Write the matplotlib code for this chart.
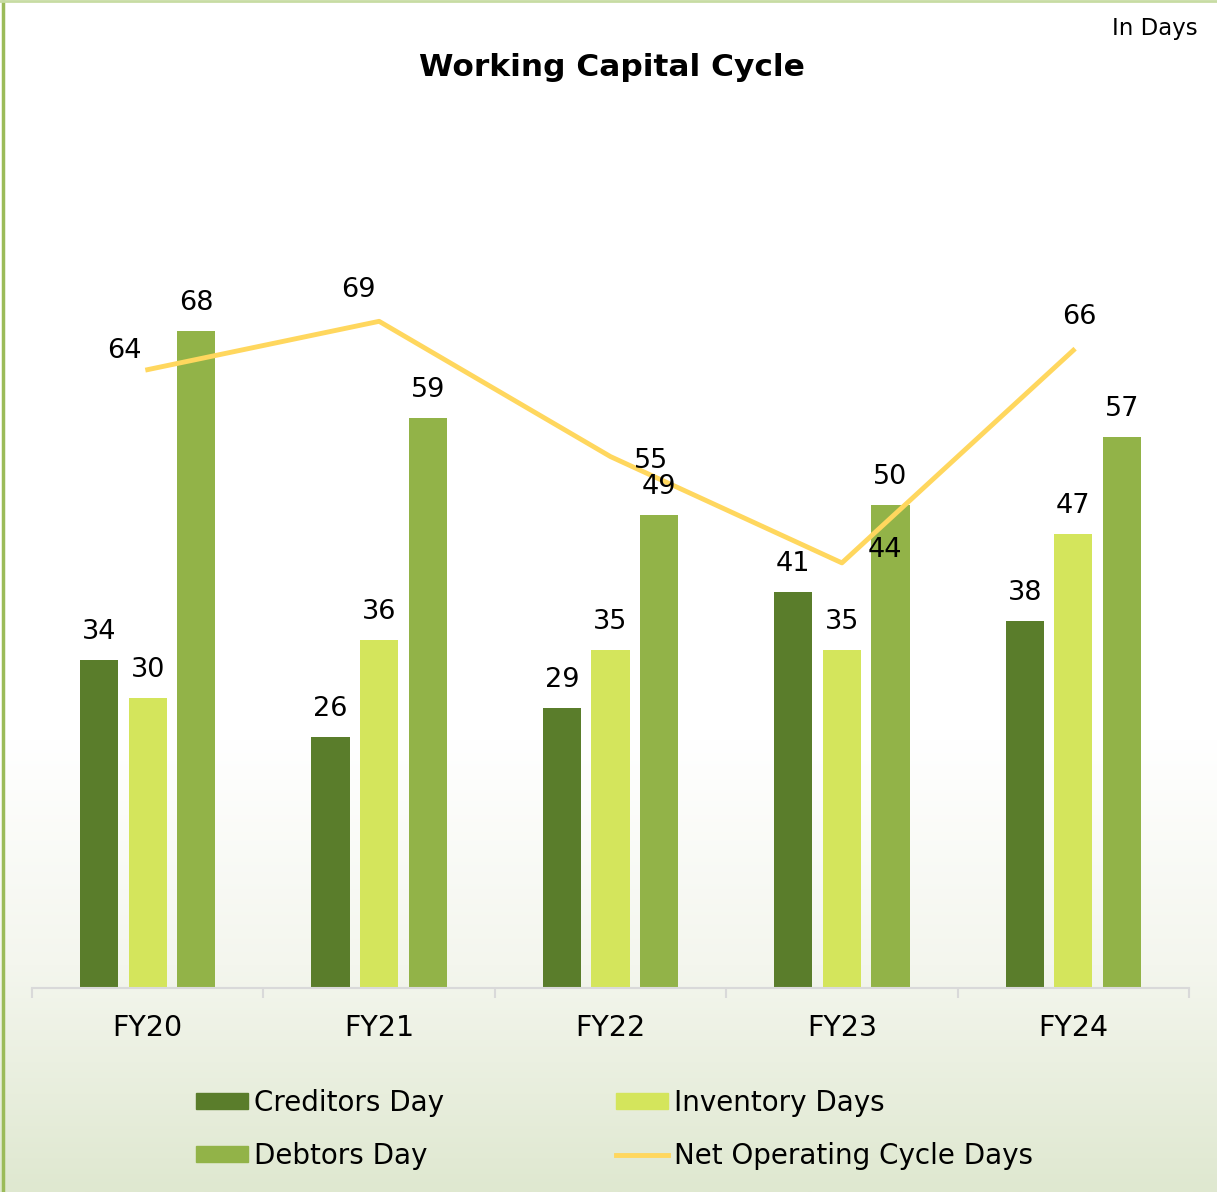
import numpy as np
import matplotlib
matplotlib.use("Agg")
import matplotlib.pyplot as plt
from matplotlib.colors import LinearSegmentedColormap
from matplotlib.patches import Patch
from matplotlib.lines import Line2D

plt.rcParams['font.family'] = ['DejaVu Sans']

years = ["FY20", "FY21", "FY22", "FY23", "FY24"]
creditors_days = [34, 26, 29, 41, 38]
inventory_days = [30, 36, 35, 35, 47]
debtors_days = [68, 59, 49, 50, 57]
net_cycle_days = [64, 69, 55, 44, 66]

# label offsets (pixels) for the line labels
line_label_offsets = [(-23, 19), (-21, 31), (41, -4), (43, 13), (6, 33)]

c_cred = "#5a7d2b"
c_inv = "#d4e55c"
c_debt = "#92b348"
c_line = "#ffd75e"

fig = plt.figure(figsize=(12.17, 11.92), dpi=100)

# background: white fading into pale green toward the bottom
bg = fig.add_axes([0, 0, 1, 1], zorder=-10)
grad = np.clip((np.linspace(0, 1, 600) - 0.62) / 0.38, 0, 1)[:, None]
cmap = LinearSegmentedColormap.from_list("bg", ["#ffffff", "#f4f6ee", "#dfe8d0"])
bg.imshow(grad, aspect="auto", cmap=cmap, extent=[0, 1, 0, 1], origin="upper")
bg.set_xlim(0, 1)
bg.set_ylim(0, 1)
bg.axis("off")
bg.plot([0.0025, 0.0025], [0, 1], color="#9bbb59", lw=2.5, solid_capstyle="butt")
bg.plot([0, 1], [0.9988, 0.9988], color="#c7dca3", lw=2)

ax = fig.add_axes([0.0263, 0.1711, 0.9507, 0.6485])
ax.patch.set_alpha(0)
x = np.arange(len(years))
w = 0.165
off = 0.21

bars_c = ax.bar(x - off, creditors_days, w, color=c_cred, label="Creditors Day")
bars_i = ax.bar(x, inventory_days, w, color=c_inv, label="Inventory Days")
bars_d = ax.bar(x + off, debtors_days, w, color=c_debt, label="Debtors Day")
ax.plot(x, net_cycle_days, color=c_line, lw=3.5, zorder=3)

for bars, vals in [(bars_c, creditors_days), (bars_i, inventory_days), (bars_d, debtors_days)]:
    for b, v in zip(bars, vals):
        ax.annotate(f"{v}", (b.get_x() + b.get_width() / 2, v), xytext=(0, 20),
                    textcoords="offset points", ha="center", va="center", fontsize=19.5)

for xi, v, (dx, dy) in zip(x, net_cycle_days, line_label_offsets):
    ax.annotate(f"{v}", (xi, v), xytext=(dx * 0.72, dy * 0.72), textcoords="offset points",
                ha="center", va="center", fontsize=19.5, zorder=5)

ax.set_xlim(-0.5, len(years) - 0.5)
ax.set_ylim(0, 80)
ax.set_yticks([])
for s in ["left", "right", "top"]:
    ax.spines[s].set_visible(False)
ax.spines["bottom"].set_color("#d9d9d9")
ax.spines["bottom"].set_linewidth(1.5)
ax.set_xticks(x)
ax.set_xticklabels(years, fontsize=20.5)
ax.tick_params(axis="x", which="major", length=0, pad=19)
ax.set_xticks(np.arange(-0.5, len(years)), minor=True)
ax.tick_params(axis="x", which="minor", length=7, width=1.5, color="#d9d9d9")

fig.text(0.5025, 0.943, "Working Capital Cycle", ha="center", va="center",
         fontsize=22.5, fontweight="bold")
fig.text(0.984, 0.976, "In Days", ha="right", va="center", fontsize=16.5)

handles = [
    Patch(color=c_cred, label="Creditors Day"),
    Patch(color=c_debt, label="Debtors Day"),
    Patch(color=c_inv, label="Inventory Days"),
    Line2D([], [], color=c_line, lw=3.5, label="Net Operating Cycle Days"),
]
fig.legend(handles=handles, ncol=2, loc="center", bbox_to_anchor=(0.505, 0.0525),
           frameon=False, fontsize=20, handlelength=1.87, handleheight=0.55,
           handletextpad=0.2, columnspacing=6.2, labelspacing=0.9)

fig.savefig("out.png", dpi=100)
